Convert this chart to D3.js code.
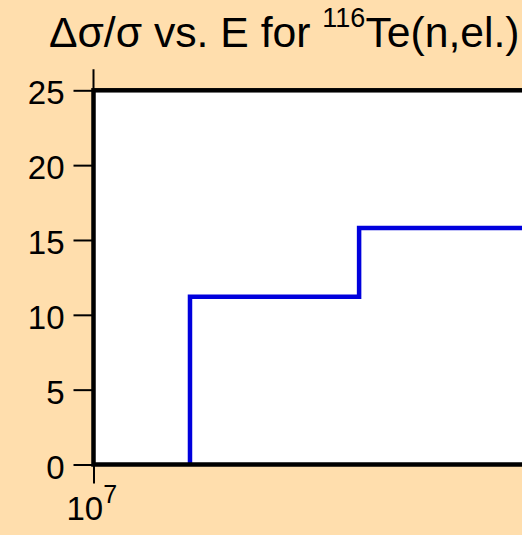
<!DOCTYPE html>
<html>
<head>
<meta charset="utf-8">
<script src="https://cdn.jsdelivr.net/npm/d3@7/dist/d3.min.js"></script>
<style>
  html, body { margin: 0; padding: 0; background: #ffdead; }
  svg { display: block; }
  text { font-family: "Liberation Sans", Arial, sans-serif; fill: #000; }
</style>
</head>
<body>
<script>
// Relative uncertainty of the 116Te elastic cross section, by energy group
const groupEnergies = [1.1e7, 1.3e7, 2.0e7];   // eV, group lower edges (last = upper limit)
const relUncertainty = [11.2, 15.8, 15.8];     // percent
const yTickValues = [0, 5, 10, 15, 20, 25];
const xTickValues = [1e7];

const W = 522, H = 535;
const svg = d3.select("body").append("svg").attr("width", W).attr("height", H);

const plotLeft = 93.5, plotTop = 90.3, plotBottom = 464.5;
const decade = 2331;   // pixels per decade on the energy axis

const x = d3.scaleLog().domain([1e7, 2e7])
  .range([plotLeft, plotLeft + decade * Math.log10(2)]);
const y = d3.scaleLinear().domain([0, 25]).range([plotBottom, plotTop]);

// plot area
svg.append("rect")
  .attr("x", x(1e7)).attr("y", y(25))
  .attr("width", x(2e7) - x(1e7)).attr("height", y(0) - y(25))
  .attr("fill", "#fff");

// step curve
const pts = [[groupEnergies[0], 0]].concat(groupEnergies.map((e, i) => [e, relUncertainty[i]]));
svg.append("path")
  .datum(pts)
  .attr("fill", "none")
  .attr("stroke", "#0000dd")
  .attr("stroke-width", 4.5)
  .attr("d", d3.line().x(d => x(d[0])).y(d => y(d[1])).curve(d3.curveStepAfter));

// frame
svg.append("rect")
  .attr("x", x(1e7)).attr("y", y(25))
  .attr("width", x(2e7) - x(1e7)).attr("height", y(0) - y(25))
  .attr("fill", "none").attr("stroke", "#000").attr("stroke-width", 4.5);

// y axis
const yAxis = svg.append("g")
  .attr("transform", `translate(${plotLeft},0)`)
  .call(d3.axisLeft(y).tickValues(yTickValues).tickSize(20).tickPadding(9).tickFormat(d3.format("d")));
yAxis.select(".domain").remove();
yAxis.selectAll(".tick line").attr("stroke", "#000").attr("stroke-width", 2);
yAxis.selectAll(".tick text")
  .attr("font-size", 33).attr("font-family", "Liberation Sans, Arial, sans-serif")
  .attr("dy", null).attr("y", 13.5);
// axis line reaching above the frame
svg.append("line")
  .attr("x1", plotLeft).attr("x2", plotLeft).attr("y1", plotTop - 21).attr("y2", plotBottom)
  .attr("stroke", "#000").attr("stroke-width", 2);

// x axis
const xAxis = svg.append("g")
  .attr("transform", `translate(0,${plotBottom})`)
  .call(d3.axisBottom(x).tickValues(xTickValues).tickSize(19).tickFormat(""));
xAxis.select(".domain").remove();
xAxis.selectAll(".tick line").attr("stroke", "#000").attr("stroke-width", 2);

xTickValues.forEach(v => {
  const t = svg.append("text")
    .attr("x", x(v) - 27).attr("y", 520)
    .attr("font-size", 33);
  t.append("tspan").text("10");
  t.append("tspan").attr("font-size", 25).attr("dy", -16.7)
    .text(Math.round(Math.log10(v)));
});

// title
const title = svg.append("text").attr("x", 49).attr("y", 46.7).attr("font-size", 42.7);
title.append("tspan").text("\u0394\u03c3/\u03c3 vs. E for ");
title.append("tspan").attr("font-size", 27).attr("dy", -20).text("116");
title.append("tspan").attr("dy", 20).text("Te(n,el.)");
</script>
</body>
</html>
